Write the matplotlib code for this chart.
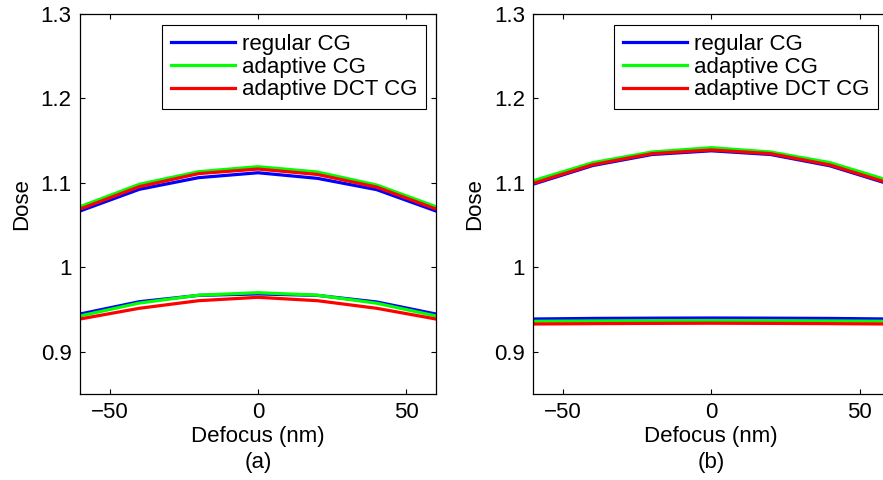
import matplotlib
matplotlib.use("Agg")
import matplotlib.pyplot as plt

plt.rcParams["font.family"] = ["Liberation Sans", "DejaVu Sans"]

# defocus positions (nm)
defocus = [-60, -40, -20, 0, 20, 40, 60]

series_names = ["regular CG", "adaptive CG", "adaptive DCT CG"]
series_colors = ["#0000ff", "#00ff00", "#ff0000"]

# panel (a): upper and lower dose curves
a_regular_hi = [1.0667, 1.0924, 1.1062, 1.1120, 1.1054, 1.0920, 1.0667]
a_adaptive_hi = [1.0718, 1.0983, 1.1133, 1.1192, 1.1129, 1.0975, 1.0718]
a_dct_hi = [1.0690, 1.0955, 1.1110, 1.1164, 1.1100, 1.0950, 1.0690]
a_regular_lo = [0.9447, 0.9593, 0.9668, 0.9685, 0.9668, 0.9590, 0.9447]
a_adaptive_lo = [0.9424, 0.9577, 0.9670, 0.9700, 0.9670, 0.9575, 0.9424]
a_dct_lo = [0.9388, 0.9515, 0.9605, 0.9645, 0.9605, 0.9515, 0.9388]

# panel (b)
b_regular_hi = [1.0985, 1.1205, 1.1336, 1.1380, 1.1336, 1.1202, 1.0985]
b_adaptive_hi = [1.1026, 1.1239, 1.1366, 1.1417, 1.1366, 1.1240, 1.1026]
b_dct_hi = [1.0995, 1.1215, 1.1346, 1.1390, 1.1346, 1.1212, 1.0995]
b_regular_lo = [0.9388, 0.9395, 0.9398, 0.9400, 0.9398, 0.9395, 0.9388]
b_adaptive_lo = [0.9361, 0.9365, 0.9368, 0.9370, 0.9368, 0.9365, 0.9361]
b_dct_lo = [0.9329, 0.9333, 0.9336, 0.9338, 0.9336, 0.9333, 0.9329]

x_ticks = [-50, 0, 50]
y_ticks = [0.9, 1.0, 1.1, 1.2, 1.3]
y_tick_labels = ["0.9", "1", "1.1", "1.2", "1.3"]

FS = 16
W, H = 883, 480


def style_axes(ax, tag):
    ax.set_xlim(-60, 60)
    ax.set_ylim(0.85, 1.3)
    ax.set_xticks(x_ticks)
    ax.set_yticks(y_ticks)
    ax.set_yticklabels(y_tick_labels)
    ax.tick_params(direction="in", top=True, right=True, length=3.5,
                   width=0.8, labelsize=FS, pad=6)
    for s in ax.spines.values():
        s.set_linewidth(0.9)
    ax.set_xlabel("Defocus (nm)\n(" + tag + ")", fontsize=FS, labelpad=2,
                  linespacing=1.3)
    ax.set_ylabel("Dose", fontsize=FS, labelpad=6)


def draw_panel(ax, hi, lo, tag, leg_x):
    handles = []
    for k in range(3):
        (ln,) = ax.plot(defocus, hi[k], color=series_colors[k], lw=2.3,
                        label=series_names[k])
        ax.plot(defocus, lo[k], color=series_colors[k], lw=2.3)
        handles.append(ln)
    style_axes(ax, tag)
    leg = ax.legend(handles=handles, loc="upper right",
                    bbox_to_anchor=(leg_x, 0.971), borderaxespad=0,
                    fontsize=FS, handlelength=2.9, handletextpad=0.3,
                    labelspacing=0.08, borderpad=0.4, fancybox=False,
                    framealpha=1, edgecolor="black")
    leg.get_frame().set_linewidth(0.8)


fig = plt.figure(figsize=(W / 100, H / 100), dpi=100)
ax_a = fig.add_axes([80 / W, 86 / H, 356 / W, 380 / H])
ax_b = fig.add_axes([533.3 / W, 86 / H, 356 / W, 380 / H])

draw_panel(ax_a, [a_regular_hi, a_adaptive_hi, a_dct_hi],
           [a_regular_lo, a_adaptive_lo, a_dct_lo], "a", 0.972)
draw_panel(ax_b, [b_regular_hi, b_adaptive_hi, b_dct_hi],
           [b_regular_lo, b_adaptive_lo, b_dct_lo], "b", 0.968)

fig.savefig("out.png", dpi=100)
